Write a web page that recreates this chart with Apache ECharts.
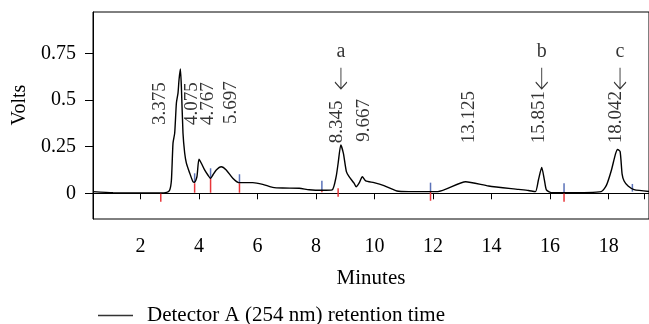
<!DOCTYPE html>
<html>
<head>
<meta charset="utf-8">
<script src="https://cdn.jsdelivr.net/npm/echarts@6/dist/echarts.min.js"></script>
<style>
  html, body { margin: 0; padding: 0; background: #fff; }
  #chart { width: 649px; height: 324px; }
</style>
</head>
<body>
<div id="chart"></div>
<script>
// trace: retention time (min) / signal (V)
const times = [0.375, 1.056, 2.657, 2.896, 2.998, 3.056, 3.110, 3.168, 3.226, 3.281, 3.315, 3.362, 3.396, 3.451, 3.509, 3.567, 3.679, 3.792, 3.849, 3.928, 3.996, 4.078, 4.190, 4.302, 4.394, 4.473, 4.589, 4.759, 4.929, 5.154, 5.358, 5.835, 6.176, 6.516, 6.857, 7.426, 7.766, 8.199, 8.550, 8.686, 8.754, 8.846, 8.934, 9.037, 9.129, 9.299, 9.367, 9.469, 9.582, 9.697, 9.980, 10.321, 10.764, 11.172, 12.160, 13.114, 13.897, 14.919, 15.260, 15.498, 15.600, 15.713, 15.805, 15.873, 16.043, 16.510, 17.746, 17.927, 18.097, 18.233, 18.308, 18.393, 18.461, 18.529, 18.665, 18.870, 19.38];
const volts = [0.009, 0.003, 0.002, 0.005, 0.018, 0.071, 0.269, 0.323, 0.484, 0.537, 0.607, 0.666, 0.571, 0.323, 0.216, 0.162, 0.109, 0.062, 0.059, 0.089, 0.182, 0.161, 0.125, 0.098, 0.080, 0.098, 0.125, 0.142, 0.125, 0.080, 0.057, 0.057, 0.048, 0.032, 0.028, 0.027, 0.019, 0.016, 0.018, 0.089, 0.161, 0.259, 0.214, 0.116, 0.089, 0.054, 0.035, 0.054, 0.089, 0.066, 0.057, 0.041, 0.012, 0.009, 0.009, 0.062, 0.039, 0.021, 0.015, 0.009, 0.071, 0.138, 0.071, 0.018, 0.003, 0.003, 0.009, 0.044, 0.125, 0.210, 0.235, 0.223, 0.103, 0.066, 0.039, 0.020, 0.010];

// peak labels (rotated text, anchored at its lower end)
const peakLabels = ['3.375', '4.075', '4.767', '5.697', '8.345', '9.667', '13.125', '15.851', '18.042'];
const peakLabelTimes = [2.657, 3.757, 4.309, 5.093, 8.730, 9.640, 13.216, 15.634, 18.25];
const peakLabelVolts = [0.366, 0.366, 0.366, 0.371, 0.268, 0.276, 0.268, 0.268, 0.268];

// marked compounds
const markNames = ['a', 'b', 'c'];
const markTimes = [8.85, 15.713, 18.39];
const arrowVolts = [0.616, 0.616, 0.616];
const letterVolts = [0.758, 0.758, 0.758];

// integration markers: time, top, bottom
const redTimes = [2.692, 3.849, 4.394, 5.382, 8.199, 8.754, 11.912, 16.476];
const redTop = [0.000, 0.054, 0.080, 0.054, 0.018, 0.027, 0.009, 0.003];
const redBottom = [-0.045, 0.003, 0.003, 0.003, 0.005, -0.018, -0.040, -0.045];
const blueTimes = [3.849, 4.394, 5.382, 8.199, 11.912, 16.476, 18.812];
const blueTop = [0.107, 0.134, 0.102, 0.067, 0.057, 0.054, 0.050];
const blueBottom = [0.057, 0.080, 0.054, 0.018, 0.009, 0.003, 0.009];

const xTicks = [2, 4, 6, 8, 10, 12, 14, 16, 18];
const xTickMarks = [2, 4, 6, 8, 10, 12, 14, 16, 18, 19.22];
const yTicks = [0, 0.25, 0.5, 0.75];

const FONT = 'Liberation Serif';
const seriesName = 'Detector A (254 nm) retention time';

const chart = echarts.init(document.getElementById('chart'));

const tickSeries = (tt, top, bottom, color) => ({
  type: 'custom',
  silent: true,
  z: 3,
  data: tt.map((t, i) => [t, top[i], bottom[i]]),
  encode: { x: 0, y: [1, 2] },
  renderItem: (params, api) => {
    const a = api.coord([api.value(0), api.value(1)]);
    const b = api.coord([api.value(0), api.value(2)]);
    return {
      type: 'line',
      shape: { x1: a[0], y1: a[1], x2: b[0], y2: b[1] },
      style: { stroke: color, lineWidth: 1.5 }
    };
  }
});

chart.setOption({
  animation: false,
  grid: {
    left: 93, right: -2, top: 12, bottom: 105,
    show: true, borderColor: '#000', borderWidth: 1
  },
  legend: {
    data: [{ name: seriesName, icon: 'rect' }],
    left: 93, top: 300,
    itemWidth: 35, itemHeight: 1.4,
    itemStyle: { color: '#333' },
    textStyle: { fontFamily: FONT, fontSize: 21, color: '#000', padding: [0, 0, 0, 9] }
  },
  xAxis: {
    type: 'value',
    min: 0.3753, max: 19.38,
    name: 'Minutes',
    nameLocation: 'middle',
    nameGap: 49,
    nameTextStyle: { fontFamily: FONT, fontSize: 21, color: '#000' },
    axisLine: { lineStyle: { color: '#000' } },
    axisTick: { length: 6, customValues: xTickMarks, lineStyle: { color: '#000' } },
    axisLabel: { customValues: xTicks, margin: 18, fontFamily: FONT, fontSize: 20, color: '#000' },
    splitLine: { show: false }
  },
  yAxis: {
    type: 'value',
    min: -0.1377, max: 0.9712,
    name: 'Volts',
    nameLocation: 'middle',
    nameGap: 63,
    nameRotate: 90,
    nameTextStyle: { fontFamily: FONT, fontSize: 20, color: '#000', padding: [0, 0, 0, 21] },
    axisLine: { show: true, lineStyle: { color: '#000' } },
    axisTick: { show: true, length: 8, customValues: yTicks, lineStyle: { color: '#000' } },
    axisLabel: { customValues: yTicks, margin: 17, fontFamily: FONT, fontSize: 20, color: '#000' },
    splitLine: { show: false }
  },
  series: [
    {
      name: seriesName,
      type: 'line',
      data: times.map((t, i) => [t, volts[i]]),
      symbol: 'none',
      smooth: 0.2,
      z: 5,
      lineStyle: { color: '#000', width: 1.4 },
      itemStyle: { color: '#333' }
    },
    tickSeries(redTimes, redTop, redBottom, '#e8363a'),
    tickSeries(blueTimes, blueTop, blueBottom, '#5b72b8'),
    {
      type: 'scatter',
      silent: true,
      symbolSize: 1,
      itemStyle: { color: 'rgba(0,0,0,0)' },
      data: peakLabels.map((s, i) => [peakLabelTimes[i], peakLabelVolts[i], s]),
      label: {
        show: true,
        position: 'inside',
        rotate: 90,
        align: 'left',
        verticalAlign: 'middle',
        formatter: p => p.data[2],
        fontFamily: FONT, fontSize: 19, color: '#000'
      }
    },
    {
      type: 'scatter',
      silent: true,
      symbol: 'path://M6,0 L6,22 M0,15 L6,22 L12,15',
      symbolSize: [12, 21],
      itemStyle: { color: 'rgba(0,0,0,0)', borderColor: '#000', borderWidth: 1.2 },
      data: markTimes.map((t, i) => [t, arrowVolts[i]])
    },
    {
      type: 'scatter',
      silent: true,
      symbolSize: 1,
      itemStyle: { color: 'rgba(0,0,0,0)' },
      data: markNames.map((s, i) => [markTimes[i], letterVolts[i], s]),
      label: {
        show: true,
        position: 'inside',
        formatter: p => p.data[2],
        fontFamily: FONT, fontSize: 20, color: '#000'
      }
    }
  ]
});
</script>
</body>
</html>
